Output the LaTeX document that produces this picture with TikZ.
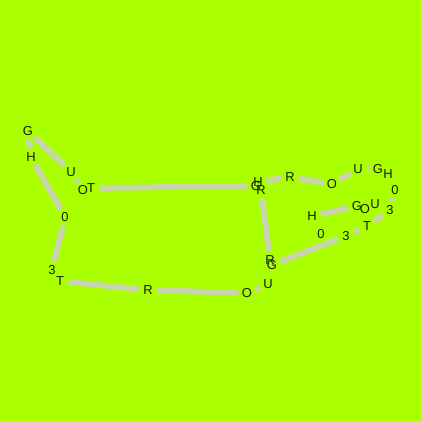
\documentclass[tikz,border=0pt]{standalone}
\usepackage{fontspec}
\setmainfont{Liberation Sans}
\definecolor{bg}{RGB}{170,255,0}
\definecolor{edgecol}{RGB}{200,214,170}
\definecolor{txt}{RGB}{20,30,10}
\begin{document}
\begin{tikzpicture}[x=1bp,y=-1bp,
  lt/.style={circle,inner sep=0pt,minimum size=17bp,text=txt,font=\fontsize{13}{15}\selectfont},
  bond/.style={draw=edgecol,line width=6bp}]
\fill[bg] (0,0) rectangle (421,421);
\useasboundingbox (0,0) rectangle (421,421);
\node[lt] (n1) at (28,131) {G};
\node[lt] (n2) at (31,157) {H};
\node[lt] (n3) at (71,172) {U};
\node[lt] (n4) at (83,190) {O};
\node[lt] (n5) at (91,188) {T};
\node[lt] (n6) at (65,217) {0};
\node[lt] (n7) at (52,270) {3};
\node[lt] (n8) at (60,281) {T};
\node[lt] (n9) at (148,290) {R};
\node[lt] (n10) at (247,293) {O};
\node[lt] (n11) at (268,284) {U};
\node[lt] (n12) at (270,260) {R};
\node[lt] (n13) at (272,265) {G};
\node[lt] (n14) at (256,186) {G};
\node[lt] (n15) at (258,182) {H};
\node[lt] (n16) at (261,190) {R};
\node[lt] (n17) at (290,177) {R};
\node[lt] (n18) at (332,184) {O};
\node[lt] (n19) at (358,169) {U};
\node[lt] (n20) at (378,169) {G};
\node[lt] (n21) at (388,174) {H};
\node[lt] (n22) at (395,190) {0};
\node[lt] (n23) at (390,210) {3};
\node[lt] (n24) at (375,204) {U};
\node[lt] (n25) at (365,209) {O};
\node[lt] (n26) at (357,206) {G};
\node[lt] (n27) at (312,216) {H};
\node[lt] (n28) at (321,234) {0};
\node[lt] (n29) at (346,236) {3};
\node[lt] (n30) at (367,226) {T};
\draw[bond] (n1) -- (n2);
\draw[bond] (n1) -- (n3);
\draw[bond] (n2) -- (n6);
\draw[bond] (n3) -- (n4);
\draw[bond] (n5) -- (n14);
\draw[bond] (n6) -- (n7);
\draw[bond] (n8) -- (n9);
\draw[bond] (n9) -- (n10);
\draw[bond] (n10) -- (n11);
\draw[bond] (n16) -- (n12);
\draw[bond] (n13) -- (n29);
\draw[bond] (n29) -- (n30);
\draw[bond] (n30) -- (n23);
\draw[bond] (n22) -- (n23);
\draw[bond] (n27) -- (n26);
\draw[bond] (n15) -- (n17);
\draw[bond] (n17) -- (n18);
\draw[bond] (n18) -- (n19);
\draw[bond] (n19) -- (n20);
\end{tikzpicture}
\end{document}
